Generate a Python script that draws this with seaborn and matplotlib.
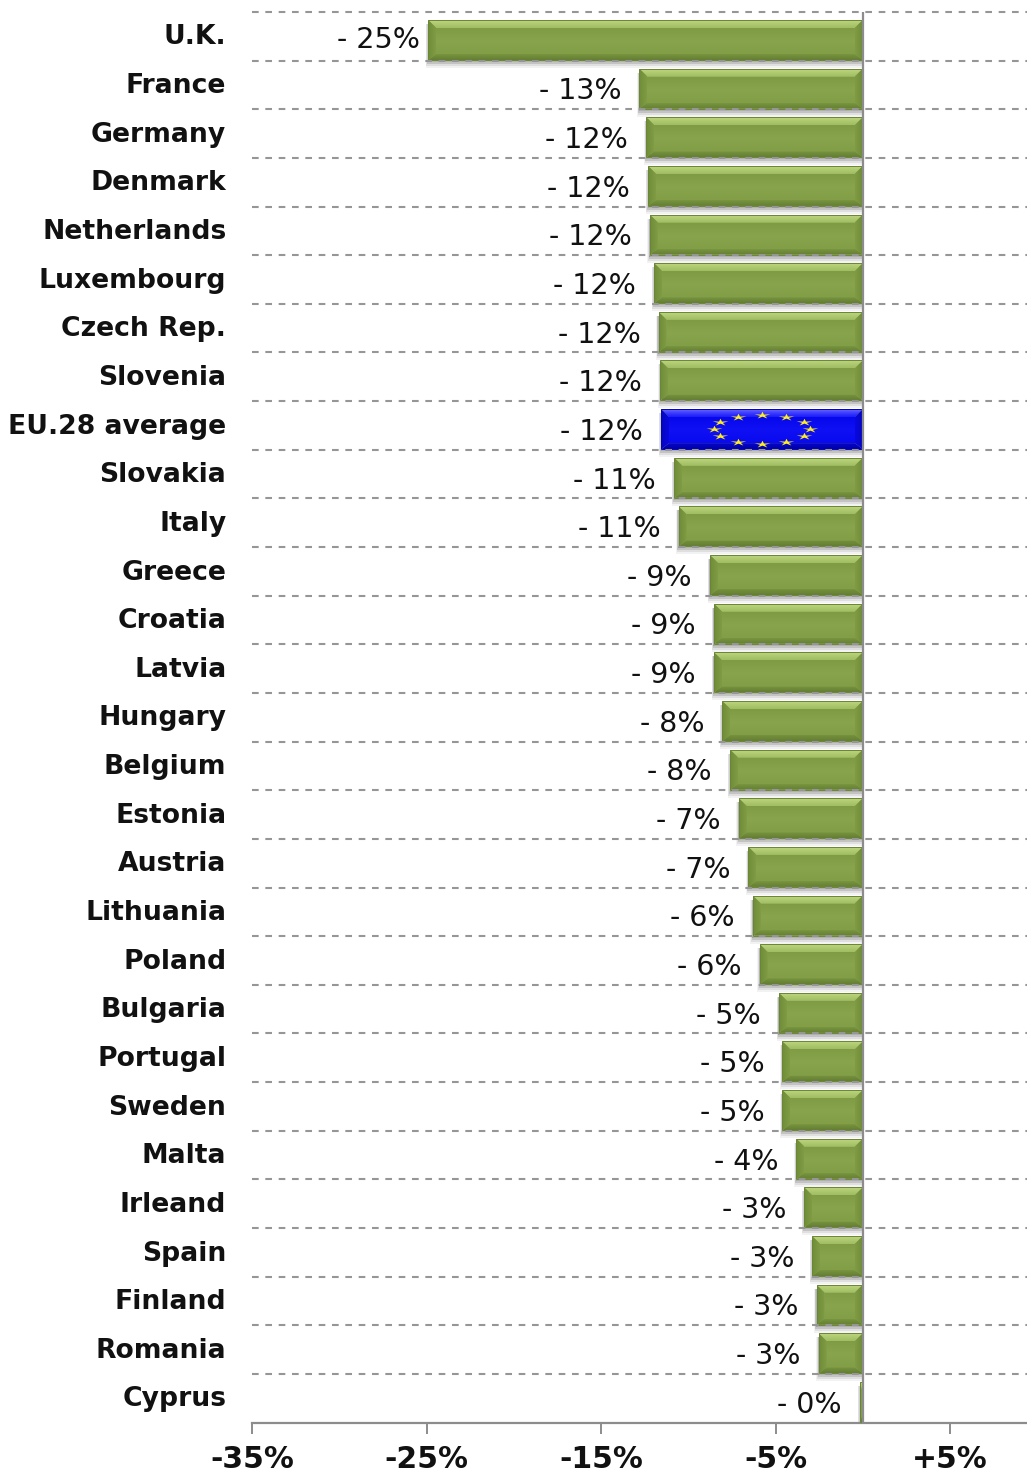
import numpy as np
import pandas as pd
import matplotlib
matplotlib.use("Agg")
import matplotlib.pyplot as plt
import seaborn as sns
from matplotlib.colors import LinearSegmentedColormap
from matplotlib.patches import Polygon, Rectangle
from matplotlib.path import Path
from matplotlib.transforms import Affine2D

countries = [
    "U.K.", "France", "Germany", "Denmark", "Netherlands", "Luxembourg",
    "Czech Rep.", "Slovenia", "EU.28 average", "Slovakia", "Italy", "Greece",
    "Croatia", "Latvia", "Hungary", "Belgium", "Estonia", "Austria",
    "Lithuania", "Poland", "Bulgaria", "Portugal", "Sweden", "Malta",
    "Irleand", "Spain", "Finland", "Romania", "Cyprus",
]
changes = [
    -24.9, -12.8, -12.4, -12.3, -12.2, -11.95,
    -11.7, -11.6, -11.55, -10.8, -10.55, -8.75,
    -8.52, -8.52, -8.05, -7.6, -7.1, -6.55,
    -6.3, -5.9, -4.8, -4.6, -4.6, -3.8,
    -3.35, -2.9, -2.65, -2.52, -0.15,
]
x_ticks = [-35, -25, -15, -5, 5]
x_tick_labels = ["-35%", "-25%", "-15%", "-5%", "+5%"]
highlight = "EU.28 average"

GREEN = {"top": ("#bcd680", "#aec96f", "#a0bd64"), "face": ("#7f9c45", "#88a54e", "#829f48"),
         "left": ("#6f8b38", "#7f9c45"), "right": ("#7f9c45", "#6f8b38"),
         "bottom": ("#78953f", "#647e33"), "edge": "#6a8534"}
BLUE = {"top": ("#6a6aff", "#3c3cff", "#1c1cf8"), "face": ("#0808ec", "#1010f4", "#0a0af0"),
        "left": ("#0606c0", "#0808e0"), "right": ("#0808e0", "#0606c0"),
        "bottom": ("#0808d0", "#0000a8"), "edge": "#0404b0"}
GREY = "#8c8c8c"

sns.set_style("white")
plt.rcParams["font.family"] = ["DejaVu Sans"]

W, H = 1027, 1472
AX_TOP, AX_BOTTOM, AX_LEFT = 12, 1422.6, 252
ROW = (AX_BOTTOM - AX_TOP) / 29
FIRST_BAR = 40  # pixel centre of the first bar, it sits low in its row
PX_X = 17.45


def draw_gradient(ax, poly_xy, colors, extent, horizontal=False):
    cmap = LinearSegmentedColormap.from_list("g", colors)
    ramp = np.linspace(0, 1, 32)
    ramp = ramp.reshape(1, -1) if horizontal else ramp.reshape(-1, 1)
    im = ax.imshow(ramp, cmap=cmap, aspect="auto", extent=extent, origin="upper",
                   zorder=3, interpolation="bilinear")
    im.set_clip_path(Polygon(poly_xy, closed=True, transform=ax.transData))


def bevel_bar(ax, patch, style):
    x0, x1 = patch.get_x(), patch.get_x() + patch.get_width()
    if x0 > x1:
        x0, x1 = x1, x0
    y0, y1 = patch.get_y(), patch.get_y() + patch.get_height()
    if y0 > y1:
        y0, y1 = y1, y0
    bx = min(8 / PX_X, (x1 - x0) / 2)
    bt = 8 / ROW
    bb = 6 / ROW

    # soft shadow under the bar
    for grow, alpha in [(8, 0.05), (6, 0.08), (4, 0.12), (2, 0.18)]:
        ax.fill_between([x0 - grow * 0.3 / PX_X, x1], y0 + 4 / ROW, y1 + grow / ROW,
                        color="black", alpha=alpha, lw=0, zorder=2)

    inner = [(x0 + bx, y0 + bt), (x1 - bx, y0 + bt), (x1 - bx, y1 - bb), (x0 + bx, y1 - bb)]
    draw_gradient(ax, inner, style["face"], (x0, x1, y1 - bb, y0 + bt))
    top = [(x0, y0), (x1, y0), (x1 - bx, y0 + bt), (x0 + bx, y0 + bt)]
    draw_gradient(ax, top, style["top"], (x0, x1, y0 + bt, y0))
    bottom = [(x0, y1), (x0 + bx, y1 - bb), (x1 - bx, y1 - bb), (x1, y1)]
    draw_gradient(ax, bottom, style["bottom"], (x0, x1, y1, y1 - bb))
    left = [(x0, y0), (x0 + bx, y0 + bt), (x0 + bx, y1 - bb), (x0, y1)]
    draw_gradient(ax, left, style["left"], (x0, x0 + bx, y1, y0), horizontal=True)
    right = [(x1, y0), (x1 - bx, y0 + bt), (x1 - bx, y1 - bb), (x1, y1)]
    draw_gradient(ax, right, style["right"], (x1 - bx, x1, y1, y0), horizontal=True)
    ax.add_patch(Rectangle((x0, y0), x1 - x0, y1 - y0, fill=False,
                           edgecolor=style["edge"], lw=0.7, zorder=3.2))


def draw_stars(ax, patch):
    star = Path.unit_regular_star(5, 0.3).transformed(Affine2D().scale(2.2, 1.0))
    cx = patch.get_x() + patch.get_width() / 2
    cy = patch.get_y() + patch.get_height() / 2
    angles = np.deg2rad(np.arange(0, 360, 30))
    sx = cx + 0.238 * abs(patch.get_width()) * np.cos(angles)
    sy = cy + 0.36 * abs(patch.get_height()) * np.sin(angles)
    ax.scatter(sx, sy, marker=star, s=130, color="#ffee22", lw=0, zorder=4)


def main():
    df = pd.DataFrame({"country": countries, "change": changes})

    fig = plt.figure(figsize=(W / 100, H / 100), dpi=100)
    ax = fig.add_axes([AX_LEFT / W, 1 - AX_BOTTOM / H, 1 - AX_LEFT / W, (AX_BOTTOM - AX_TOP) / H])

    sns.barplot(data=df, y="country", x="change", orient="h", width=40 / ROW,
                color=GREEN["face"][1], saturation=1, ax=ax, zorder=2.5)

    xmin, xmax = -35, (W - AX_LEFT) / PX_X - 35
    ylim = ((AX_BOTTOM - FIRST_BAR) / ROW, (AX_TOP - FIRST_BAR) / ROW)

    container = ax.containers[0]
    for name, patch in zip(countries, container.patches):
        bevel_bar(ax, patch, BLUE if name == highlight else GREEN)
        if name == highlight:
            draw_stars(ax, patch)

    labels = [f"- {abs(v):.0f}%" for v in changes]
    value_texts = ax.bar_label(container, labels=labels, padding=13, fontsize=20.5, color="#111111")
    # the first label sits closer to its bar than the others
    for i, t in enumerate(value_texts):
        x_off, y_off = t.xyann
        if i == 0:
            t.xyann = (x_off + 7.2, y_off)
        else:
            t.xyann = (x_off, y_off - 2.0)
        t.set_va("center")

    # dashed row separators, 29 rows between the top line and the axis
    for i in range(len(countries)):
        y = (AX_TOP + i * ROW - FIRST_BAR) / ROW
        ax.plot([xmin, xmax], [y, y], color="#969696", lw=1.5,
                linestyle=(0, (3.2, 3.2)), zorder=3.5, clip_on=False)

    ax.axvline(0, color=GREY, lw=1.6, zorder=5)

    ax.set_xlim(xmin, xmax)
    ax.set_ylim(*ylim)
    ax.set_xlabel("")
    ax.set_ylabel("")
    ax.set_xticks(x_ticks, labels=x_tick_labels)
    ax.set_yticks(np.arange(len(countries)) - 5.5 / ROW, labels=countries)
    ax.tick_params(axis="y", length=0, pad=18.5, labelsize=19.15)
    ax.tick_params(axis="x", bottom=True, length=8, width=1.4, color=GREY, pad=8, labelsize=21.5)
    for label in ax.get_xticklabels() + ax.get_yticklabels():
        label.set_fontweight("bold")
        label.set_color("#111111")

    sns.despine(ax=ax, left=True, right=True, top=True)
    ax.spines["bottom"].set_color(GREY)
    ax.spines["bottom"].set_linewidth(1.6)
    ax.patch.set_alpha(0)

    fig.savefig("out.png", dpi=100)
    plt.close(fig)


if __name__ == "__main__":
    main()
